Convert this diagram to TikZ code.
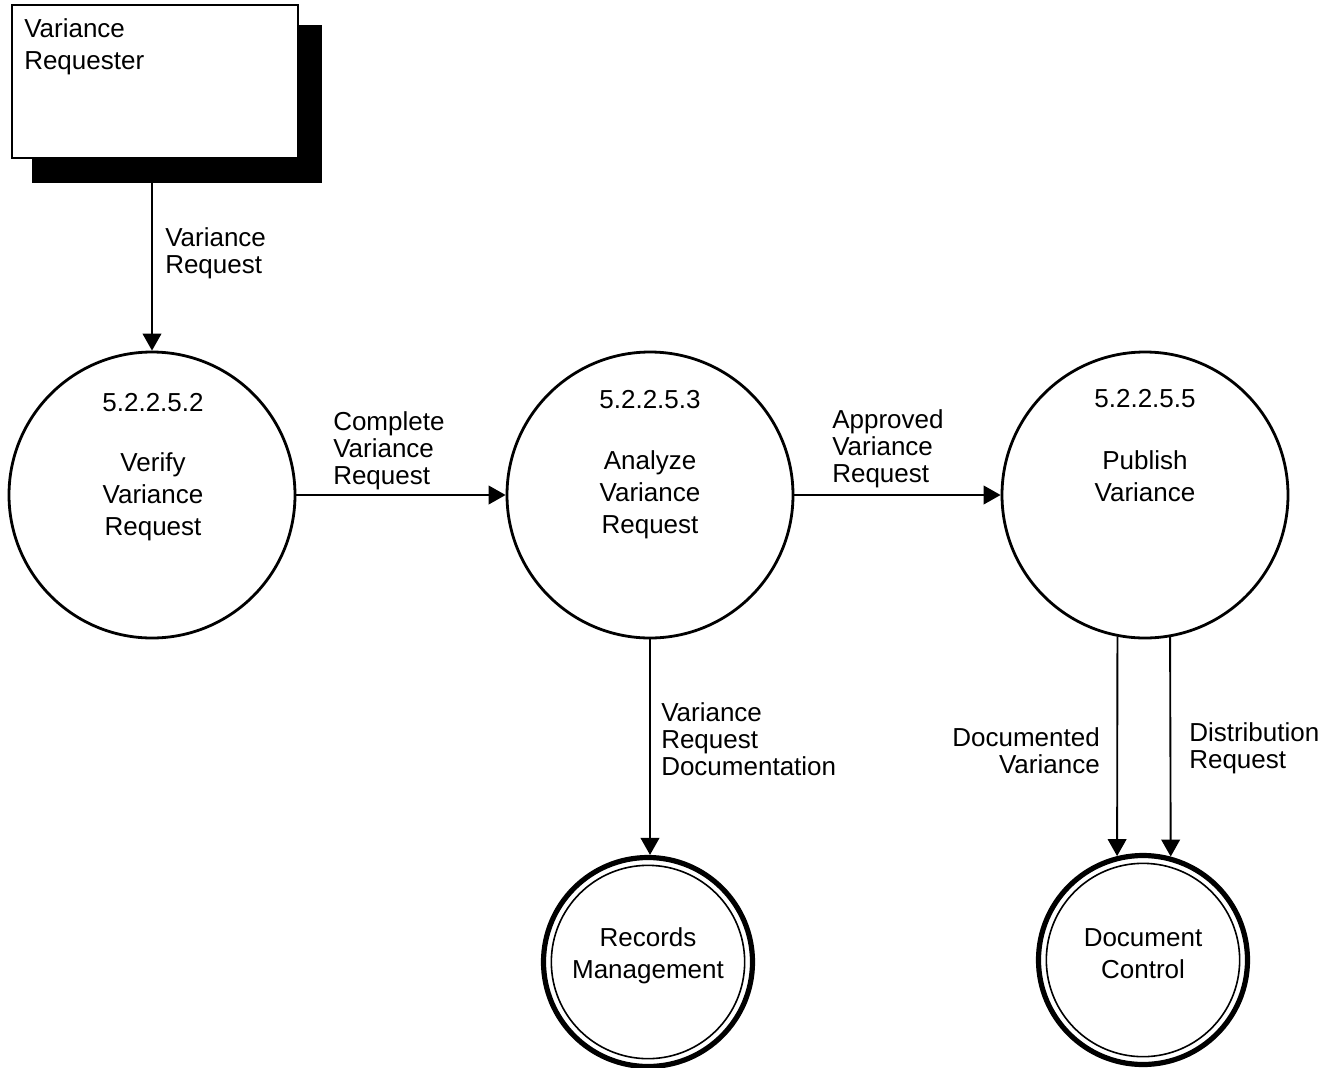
\documentclass[tikz,border=0pt]{standalone}
\usepackage{fontspec}
\setmainfont{Liberation Sans}
\usetikzlibrary{arrows.meta}

\begin{document}
\begin{tikzpicture}[x=0.75pt,y=-0.75pt,
  txt/.style={font=\fontsize{19.5}{24}\selectfont, inner sep=0pt, align=center},
  lbl/.style={font=\fontsize{19.5}{20.25}\selectfont, inner sep=0pt, align=left},
  proc/.style={circle, draw, line width=2.1pt, minimum size=214.5pt, inner sep=0pt},
  store/.style={circle, draw, line width=3.9pt, minimum size=156.75pt, inner sep=0pt},
  inring/.style={line width=1.2pt},
  flow/.style={-{Triangle[length=12.75pt,width=14pt]}, line width=1.4pt}
]
\useasboundingbox (0,0) rectangle (1340,1068);

% external entity with its drop shadow
\node[fill=black, minimum width=217.5pt, minimum height=118.5pt, inner sep=0pt] (rqsh) at (177,104) {};
\node[draw, fill=white, line width=1.8pt, minimum width=214.5pt, minimum height=114.75pt, inner sep=0pt] (rq) at (155,81.5) {};
\node[lbl, font=\fontsize{19.5}{24}\selectfont, anchor=west] (rqtxt) at (24,47) {Variance\\Requester};

% processes
\node[proc] (vv) at (152,495) {};
\node[proc] (av) at (650,495) {};
\node[proc] (pv) at (1145,495) {};
\node[txt] (vvn) at (153,403) {5.2.2.5.2};
\node[txt] (vvt) at (153,497) {Verify\\Variance\\Request};
\node[txt] (avn) at (650,400) {5.2.2.5.3};
\node[txt] (avt) at (650,495) {Analyze\\Variance\\Request};
\node[txt] (pvn) at (1145,399) {5.2.2.5.5};
\node[txt] (pvt) at (1145,476) {Publish\\Variance};

% stores
\node[store] (rm) at (648,962) {};
\node[store] (dc) at (1143,960) {};
\draw[inring] (rm.center) circle[radius=72.5pt];
\draw[inring] (dc.center) circle[radius=72.5pt];
\node[txt] (rmt) at (648,956) {Records\\Management};
\node[txt] (dct) at (1143,954) {Document\\Control};

% data flows
\draw[flow] (rqsh.south -| vv.north) -- (vv.north);
\draw[flow] (vv.east) -- (av.west);
\draw[flow] (av.east) -- (pv.west);
\draw[flow] (av.south) -- (av.south |- rm.north);
\draw[flow] (pv.-101.6) -- (dc.104.6);
\draw[flow] (pv.-80.4) -- (dc.75.9);

% flow labels
\node[lbl, anchor=west] (l1) at (165,253) {Variance\\Request};
\node[lbl, anchor=west] (l2) at (333,451) {Complete\\Variance\\Request};
\node[lbl, anchor=west] (l3) at (832,449) {Approved\\Variance\\Request};
\node[lbl, anchor=west] (l4) at (661,739) {Variance\\Request\\Documentation};
\node[lbl, anchor=east, align=right] (l5) at (1100,751) {Documented\\Variance};
\node[lbl, anchor=west] (l6) at (1189,748) {Distribution\\Request};
\end{tikzpicture}
\end{document}
